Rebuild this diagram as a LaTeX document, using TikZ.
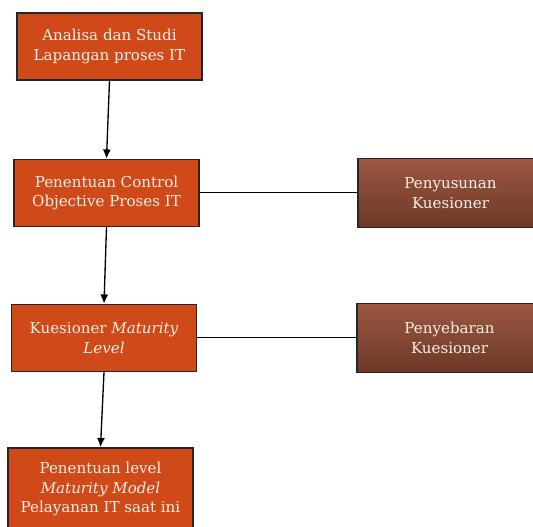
\documentclass[tikz,border=0pt]{standalone}
\usepackage{fontspec}
\setmainfont{DejaVu Serif}
\usetikzlibrary{arrows.meta}
\definecolor{stepred}{HTML}{D04918}
\definecolor{browntop}{HTML}{9C5842}
\definecolor{brownbot}{HTML}{6C3828}
\definecolor{boxtext}{HTML}{F7EFE8}
\tikzset{
  mainbox/.style={draw=black!85, line width=1.1pt, fill=stepred, text=boxtext,
    minimum width=138.75pt, minimum height=50.25pt, align=center,
    font=\fontsize{11.3}{14.8}\selectfont, inner sep=2pt},
  sidebox/.style={mainbox, fill=none, top color=browntop, bottom color=brownbot,
    minimum height=52pt},
  flow/.style={-{Latex[length=7pt,width=6pt]}, line width=1pt}
}
\begin{document}
\begin{tikzpicture}[x=0.75pt, y=-0.75pt]
          \useasboundingbox (0,0) rectangle (533,527);
          \node [mainbox] (analisa) at (109.5, 46.5) {Analisa dan Studi\\Lapangan proses IT};
          \node [mainbox] (control) at (106.5, 193) {Penentuan Control\\Objective Proses IT};
          \node [mainbox] (kuesioner) at (104, 338) {Kuesioner \textit{Maturity}\\\textit{Level}};
          \node [mainbox, minimum height=61.5pt] (level) at (100.5, 489) {Penentuan level\\\textit{Maturity Model}\\Pelayanan IT saat ini};
          \node [sidebox] (penyusunan) at (450.5, 193) {Penyusunan\\Kuesioner};
          \node [sidebox] (penyebaran) at (449.5, 338) {Penyebaran\\Kuesioner};
          \draw [flow] (analisa.south) -- (control.north);
          \draw [flow] (control.south) -- (kuesioner.north);
          \draw [flow] (kuesioner.south) -- (level.north);
          \draw [line width=0.75pt] (control.east) -- (penyusunan.west);
          \draw [line width=0.75pt] (kuesioner.east) -- (penyebaran.west);
        \end{tikzpicture}
\end{document}
